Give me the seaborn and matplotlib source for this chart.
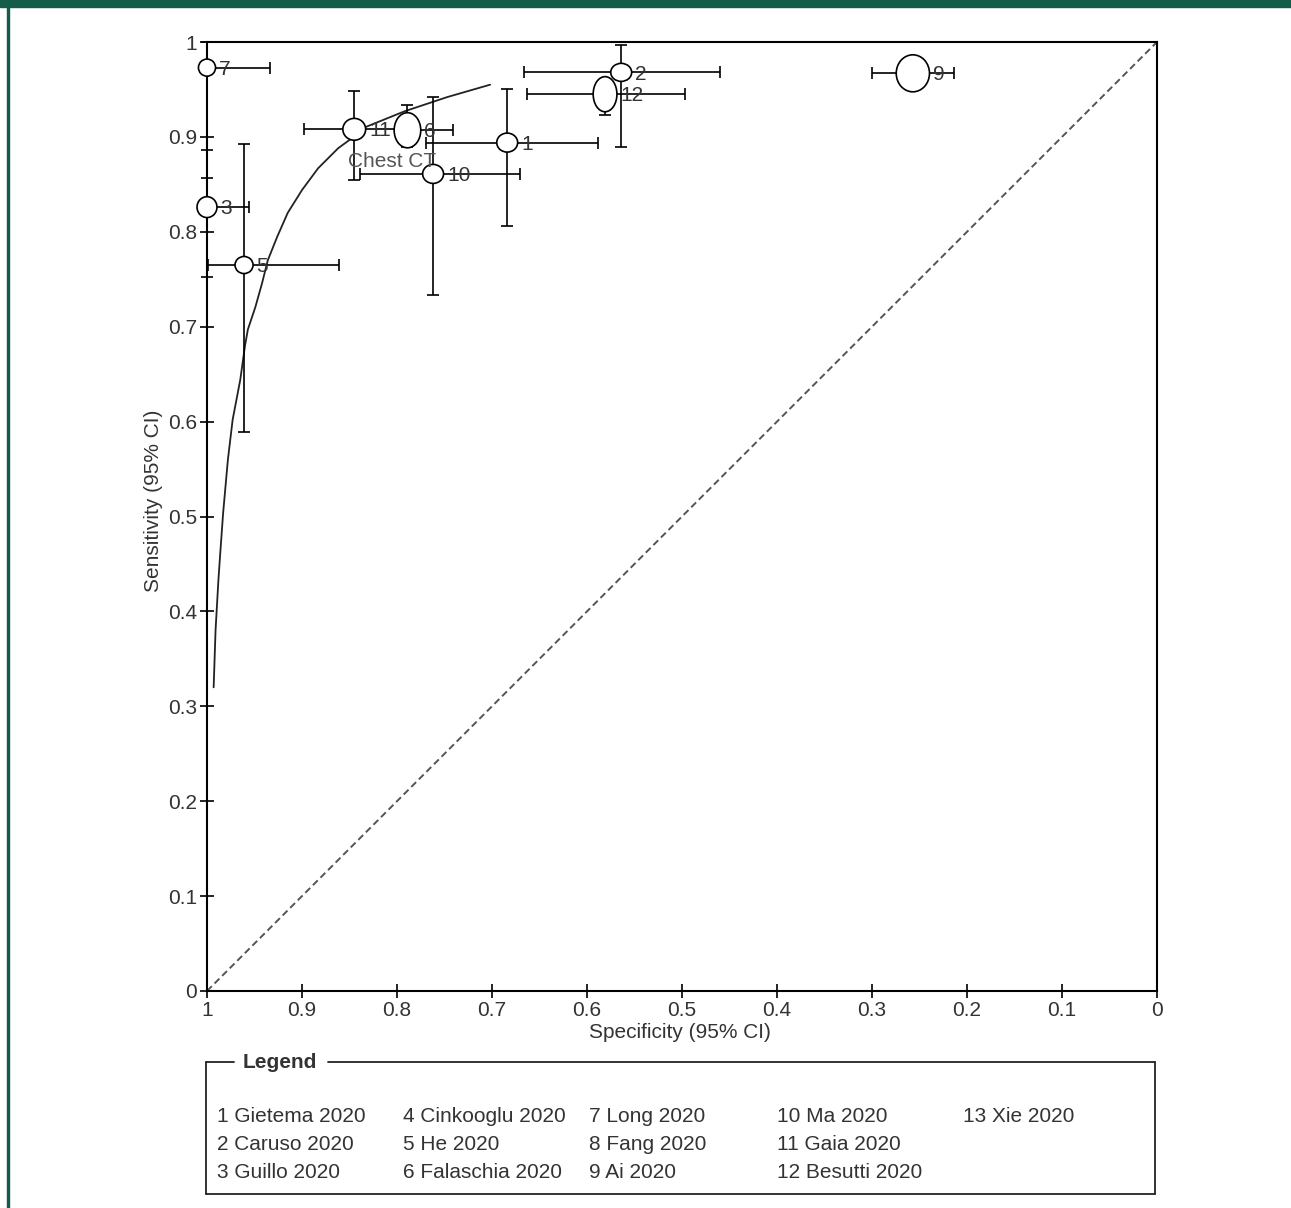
import matplotlib
matplotlib.use("Agg")
import matplotlib.pyplot as plt
from matplotlib.patches import Ellipse, Rectangle
from matplotlib.lines import Line2D
import seaborn as sns

# study results (Chest CT)
study_ids = [1, 2, 3, 5, 6, 7, 9, 10, 11, 12]
spec = [0.684, 0.564, 1.000, 0.961, 0.789, 1.000, 0.257, 0.762, 0.845, 0.581]
spec_lo = [0.588, 0.460, 0.956, 0.861, 0.741, 0.934, 0.214, 0.671, 0.777, 0.497]
spec_hi = [0.769, 0.666, 1.000, 0.999, 0.800, 1.000, 0.300, 0.839, 0.898, 0.663]
sens = [0.894, 0.968, 0.826, 0.765, 0.907, 0.973, 0.967, 0.861, 0.908, 0.945]
sens_lo = [0.806, 0.889, 0.752, 0.589, 0.889, 0.857, 0.955, 0.733, 0.855, 0.923]
sens_hi = [0.950, 0.997, 0.886, 0.893, 0.934, 1.000, 0.978, 0.942, 0.948, 0.955]
# ellipse extent (in axis units) ~ study size
ell_w = [0.022, 0.022, 0.021, 0.019, 0.028, 0.018, 0.035, 0.022, 0.024, 0.025]
ell_h = [0.020, 0.019, 0.022, 0.018, 0.037, 0.018, 0.039, 0.020, 0.023, 0.037]

# summary ROC curve
sroc_spec = [0.993, 0.991, 0.988, 0.986, 0.983, 0.978, 0.973, 0.965, 0.960,
             0.957, 0.949, 0.942, 0.936, 0.926, 0.915, 0.900, 0.883, 0.862,
             0.847, 0.834, 0.792, 0.762, 0.747, 0.702]
sroc_sens = [0.320, 0.380, 0.433, 0.462, 0.504, 0.560, 0.602, 0.644, 0.680,
             0.697, 0.721, 0.746, 0.770, 0.795, 0.820, 0.844, 0.867, 0.888,
             0.899, 0.910, 0.927, 0.937, 0.942, 0.955]

legend_names = ["1 Gietema 2020", "2 Caruso 2020", "3 Guillo 2020",
                "4 Cinkooglu 2020", "5 He 2020", "6 Falaschia 2020",
                "7 Long 2020", "8 Fang 2020", "9 Ai 2020",
                "10 Ma 2020", "11 Gaia 2020", "12 Besutti 2020",
                "13 Xie 2020"]

sns.set_style("ticks")
plt.rcParams['font.family'] = ['Liberation Sans', 'DejaVu Sans']

W, H = 1291, 1208
fig = plt.figure(figsize=(W / 100, H / 100), dpi=100)
fig.patch.set_facecolor('white')


def fx(x):
    return x / W


def fy(y):
    return 1 - y / H


ax = fig.add_axes([fx(207), fy(991), 950 / W, 949 / H])

# frame decoration like the journal page
green = '#135c4a'
fig.patches.append(Rectangle((0, fy(7)), 1, 7 / H, transform=fig.transFigure,
                             color=green, zorder=0))
fig.patches.append(Rectangle((fx(7), 0), 2 / W, 1, transform=fig.transFigure,
                             color=green, zorder=0))

# reference diagonal
ax.plot([0, 1], [0, 1], transform=ax.transAxes, color='#555555', lw=1.4,
        linestyle=(0, (3.5, 2)), zorder=1)

# SROC curve
sns.lineplot(x=sroc_spec, y=sroc_sens, ax=ax, color='#222222', lw=1.3,
             sort=False, estimator=None, zorder=2)

# confidence intervals
for i in range(len(study_ids)):
    ax.errorbar(spec[i], sens[i],
                xerr=[[spec[i] - spec_lo[i]], [spec_hi[i] - spec[i]]],
                yerr=[[sens[i] - sens_lo[i]], [sens_hi[i] - sens[i]]],
                fmt='none', ecolor='black', elinewidth=1.2, capsize=4,
                capthick=1.2, clip_on=False, zorder=3)

# study ellipses and labels
for i, sid in enumerate(study_ids):
    e = Ellipse((spec[i], sens[i]), width=ell_w[i], height=ell_h[i],
                facecolor='white', edgecolor='black', lw=1.2, zorder=4,
                clip_on=False)
    ax.add_patch(e)
    ax.annotate(str(sid), xy=(spec[i] - ell_w[i] / 2, sens[i]),
                xytext=(2.5, -1.2), textcoords='offset points',
                ha='left', va='center', fontsize=15, color='#333333',
                zorder=5)

ax.text(0.852, 0.874, "Chest CT", ha='left', va='center', fontsize=15,
        color='#555555', zorder=5)

ax.set_xlim(1, 0)
ax.set_ylim(0, 1)
ticks = [i / 10 for i in range(11)]
ax.set_xticks(ticks)
ax.set_yticks(ticks)
ax.set_xticklabels(['{:g}'.format(t) for t in ticks])
ax.set_yticklabels(['{:g}'.format(t) for t in ticks])
ax.tick_params(direction='inout', length=10, width=1.2, color='black',
               labelcolor='#333333', labelsize=15, pad=2)
for sp in ax.spines.values():
    sp.set_color('black')
    sp.set_linewidth(1.5)

ax.set_xlabel("Specificity (95% CI)", fontsize=15, color='#333333')
ax.set_ylabel("Sensitivity (95% CI)", fontsize=15, color='#333333')
ax.xaxis.set_label_coords(0.498, -0.034)
ax.yaxis.set_label_coords(-0.046, 0.517)

# legend box drawn by hand
box_kw = dict(transform=fig.transFigure, color='#222222', lw=1.3)
fig.lines.append(Line2D([fx(206), fx(206)], [fy(1062), fy(1194)], **box_kw))
fig.lines.append(Line2D([fx(206), fx(234)], [fy(1062), fy(1062)], **box_kw))
fig.lines.append(Line2D([fx(328), fx(1155)], [fy(1062), fy(1062)], **box_kw))
fig.lines.append(Line2D([fx(1155), fx(1155)], [fy(1062), fy(1194)], **box_kw))
fig.lines.append(Line2D([fx(206), fx(1155)], [fy(1194), fy(1194)], **box_kw))
fig.text(fx(243), fy(1063), "Legend", ha='left', va='center', fontsize=15,
         fontweight='bold', color='#333333')

col_x = [217, 403, 589, 777, 963]
row_y = [1117, 1145, 1173]
for k, name in enumerate(legend_names):
    c, r = divmod(k, 3)
    fig.text(fx(col_x[c]), fy(row_y[r]), name, ha='left', va='center',
             fontsize=15, color='#333333')

fig.savefig("out.png", dpi=100, facecolor='white')
